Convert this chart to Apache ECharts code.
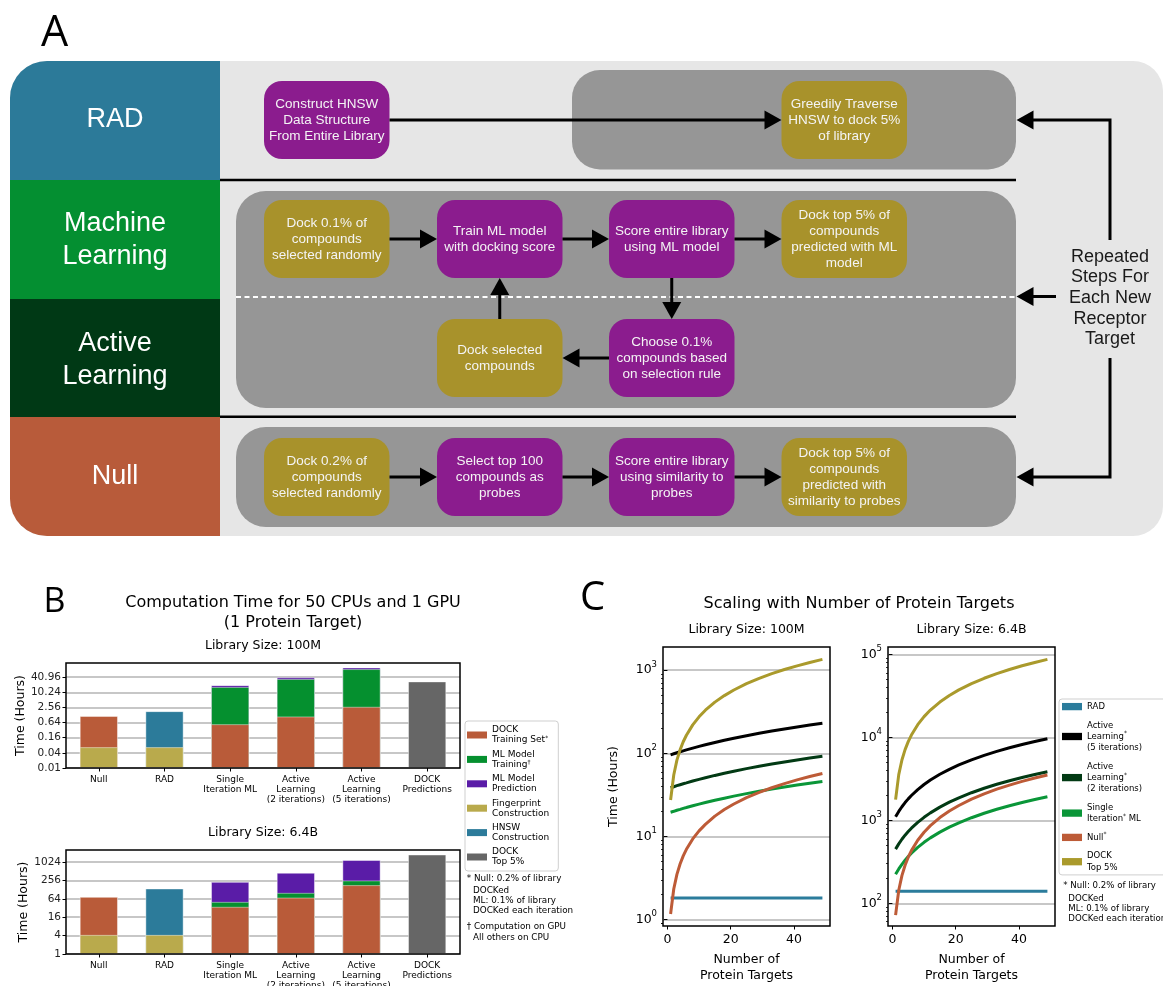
<!DOCTYPE html>
<html>
<head>
<meta charset="utf-8">
<script src="https://cdn.jsdelivr.net/npm/echarts@6.0.0/dist/echarts.min.js"></script>
<style>
html,body{margin:0;padding:0;background:#ffffff;}
#chart{width:1163px;height:986px;}
</style>
</head>
<body>
<div id="chart"></div>
<script>
// ================= Panel B data (hours, one array per stacked segment) =================
const barCategories = ['Null', 'RAD', 'Single\nIteration ML', 'Active\nLearning\n(2 iterations)', 'Active\nLearning\n(5 iterations)', 'DOCK\nPredictions'];
const segmentNames = ['Fingerprint Construction', 'DOCK Training Set', 'ML Model Training', 'ML Model Prediction', 'HNSW Construction', 'DOCK Top 5%'];
// Library size 100M
const fingerprint100M  = [0.067, 0.067, null, null, null, null];
const dockTraining100M = [1.10, null, 0.55, 1.11, 2.7, null];
const mlTraining100M   = [null, null, 16.0, 33.2, 82.3, null];
const mlPrediction100M = [null, null, 3.0, 5.6, 14.0, null];
const hnsw100M         = [null, 1.74, null, null, null, null];
const dockTop100M      = [null, null, null, null, null, 27.5];
// Library size 6.4B
const fingerprint64B  = [4.2, 4.2, null, null, null, null];
const dockTraining64B = [69.5, null, 34.9, 70, 179, null];
const mlTraining64B   = [null, null, 15.7, 30, 76, null];
const mlPrediction64B = [null, null, 178, 355, 935, null];
const hnsw64B         = [null, 134.8, null, null, null, null];
const dockTop64B      = [null, null, null, null, null, 1800];
// tick labels
const yTicks100M = [0.01, 0.04, 0.16, 0.64, 2.56, 10.24, 40.96];
const yTickLabels100M = ['0.01', '0.04', '0.16', '0.64', '2.56', '10.24', '40.96'];
const yTicks64B = [1, 4, 16, 64, 256, 1024];
const yTickLabels64B = ['1', '4', '16', '64', '256', '1024'];
const yRange100M = [0.01, 149.6];
const yRange64B = [1, 2544];

// ================= Panel C data (hours vs number of protein targets) =================
const targetCounts = [1, 2, 3, 4, 5, 6, 8, 10, 12, 15, 18, 21, 25, 29, 33, 37, 41, 45, 49];
const cSeriesNames = ['RAD', 'Active Learning (5 iterations)', 'Active Learning (2 iterations)', 'Single Iteration ML', 'Null', 'DOCK Top 5% (scaling)'];
// 100M
const rad100M    = [1.82, 1.82, 1.82, 1.82, 1.82, 1.82, 1.82, 1.82, 1.82, 1.82, 1.82, 1.82, 1.82, 1.82, 1.82, 1.82, 1.82, 1.82, 1.82];
const al5_100M   = [96.0, 98.8, 101.6, 104.4, 107.2, 110.0, 115.6, 121.2, 126.8, 135.2, 143.6, 152.0, 163.2, 174.4, 185.6, 196.8, 208.0, 219.2, 230.4];
const al2_100M   = [38.6, 39.7, 40.9, 42.0, 43.1, 44.2, 46.5, 48.7, 50.9, 54.3, 57.7, 61.0, 65.5, 70.0, 74.5, 78.9, 83.4, 87.9, 92.4];
const single100M = [19.6, 20.1, 20.7, 21.2, 21.8, 22.3, 23.4, 24.5, 25.6, 27.3, 28.9, 30.6, 32.8, 35.0, 37.2, 39.4, 41.6, 43.8, 46.0];
const null100M   = [1.17, 2.34, 3.51, 4.68, 5.85, 7.02, 9.36, 11.7, 14.0, 17.6, 21.1, 24.6, 29.3, 33.9, 38.6, 43.3, 48.0, 52.7, 57.3];
const dock100M   = [27.5, 55, 83, 110, 138, 165, 220, 275, 330, 413, 495, 578, 688, 798, 908, 1018, 1128, 1238, 1348];
// 6.4B
const rad64B    = [140, 140, 140, 140, 140, 140, 140, 140, 140, 140, 140, 140, 140, 140, 140, 140, 140, 140, 140];
const al5_64B   = [1105, 1283, 1460, 1638, 1816, 1994, 2349, 2705, 3061, 3594, 4127, 4661, 5372, 6083, 6794, 7506, 8217, 8928, 9639];
const al2_64B   = [450, 521, 592, 663, 734, 805, 947, 1089, 1231, 1444, 1657, 1870, 2154, 2438, 2722, 3006, 3290, 3574, 3858];
const single64B = [224, 260, 295, 331, 366, 402, 473, 544, 615, 721, 828, 934, 1076, 1218, 1360, 1502, 1644, 1786, 1928];
const null64B   = [72, 144, 216, 288, 360, 432, 576, 720, 864, 1080, 1296, 1512, 1800, 2088, 2376, 2664, 2952, 3240, 3528];
const dock64B   = [1780, 3560, 5340, 7120, 8900, 10680, 14240, 17800, 21360, 26700, 32040, 37380, 44500, 51620, 58740, 65860, 72980, 80100, 87220];
const cYTicks100M = [1, 10, 100, 1000];
const cYTicks64B = [100, 1000, 10000, 100000];
const cYRange100M = [0.84, 1900];
const cYRange64B = [53.3, 123000];
const cXTicks = [0, 20, 40];
const cXRange = [-1.4, 51.4];

// ================= Panel A text =================
const rowLabels = ['RAD', 'Machine\nLearning', 'Active\nLearning', 'Null'];
const flowNodes = [
  { text: 'Construct HNSW\nData Structure\nFrom Entire Library', kind: 'compute', col: 0, row: 0 },
  { text: 'Greedily Traverse\nHNSW to dock 5%\nof library', kind: 'dock', col: 3, row: 0 },
  { text: 'Dock 0.1% of\ncompounds\nselected randomly', kind: 'dock', col: 0, row: 1 },
  { text: 'Train ML model\nwith docking score', kind: 'compute', col: 1, row: 1 },
  { text: 'Score entire library\nusing ML model', kind: 'compute', col: 2, row: 1 },
  { text: 'Dock top 5% of\ncompounds\npredicted with ML\nmodel', kind: 'dock', col: 3, row: 1 },
  { text: 'Dock selected\ncompounds', kind: 'dock', col: 1, row: 2 },
  { text: 'Choose 0.1%\ncompounds based\non selection rule', kind: 'compute', col: 2, row: 2 },
  { text: 'Dock 0.2% of\ncompounds\nselected randomly', kind: 'dock', col: 0, row: 3 },
  { text: 'Select top 100\ncompounds as\nprobes', kind: 'compute', col: 1, row: 3 },
  { text: 'Score entire library\nusing similarity to\nprobes', kind: 'compute', col: 2, row: 3 },
  { text: 'Dock top 5% of\ncompounds\npredicted with\nsimilarity to probes', kind: 'dock', col: 3, row: 3 }
];
const repeatText = 'Repeated\nSteps For\nEach New\nReceptor\nTarget';
const bNotes = ['* Null: 0.2% of library', 'DOCKed', 'ML: 0.1% of library', 'DOCKed each iteration', '\u2020 Computation on GPU', 'All others on CPU'];
const cNotes = ['* Null: 0.2% of library', 'DOCKed', 'ML: 0.1% of library', 'DOCKed each iteration'];

// ================= Styles =================
const F = 'DejaVu Sans';
const AF = 'Liberation Sans';
const barColors = {
  'Fingerprint Construction': '#b9aa4c',
  'DOCK Training Set': '#b95b39',
  'ML Model Training': '#05902f',
  'ML Model Prediction': '#5a1ca7',
  'HNSW Construction': '#2c7b9a',
  'DOCK Top 5%': '#666666'
};
const lineColors = ['#2b7c9c', '#000000', '#023a14', '#0a9638', '#bd5b37', '#aa9a2c'];
const bLegendOrder = ['DOCK Training Set', 'ML Model Training', 'ML Model Prediction', 'Fingerprint Construction', 'HNSW Construction', 'DOCK Top 5%'];
const bLegendText = {
  'DOCK Training Set': 'DOCK\nTraining Set{s|*}',
  'ML Model Training': 'ML Model\nTraining{s|\u2020}',
  'ML Model Prediction': 'ML Model\nPrediction',
  'Fingerprint Construction': 'Fingerprint\nConstruction',
  'HNSW Construction': 'HNSW\nConstruction',
  'DOCK Top 5%': 'DOCK\nTop 5%'
};
const cLegendText = {
  'RAD': 'RAD',
  'Active Learning (5 iterations)': 'Active\nLearning{s|*}\n(5 iterations)',
  'Active Learning (2 iterations)': 'Active\nLearning{s|*}\n(2 iterations)',
  'Single Iteration ML': 'Single\nIteration{s|*} ML',
  'Null': 'Null{s|*}',
  'DOCK Top 5% (scaling)': 'DOCK\nTop 5%'
};

// ================= Build bar series (overlapping cumulative bars = stacked look) =================
function buildBars(segs, xi, yi, unit) {
  const out = [];
  segs.forEach((arr, k) => {
    const data = arr.map((v, c) => {
      if (v == null) return '-';
      let s = 0;
      for (let j = 0; j <= k; j++) if (segs[j][c] != null) s += segs[j][c];
      return +(s * unit).toPrecision(10);
    });
    out.push({
      type: 'bar', name: segmentNames[k], xAxisIndex: xi, yAxisIndex: yi, data: data,
      barWidth: '58%', barGap: '-100%', z: 10 - k,
      itemStyle: { color: barColors[segmentNames[k]], borderColor: 'rgba(255,255,255,0.55)', borderWidth: 0.8 },
      emphasis: { disabled: true }
    });
  });
  return out;
}
const UNIT100M = 100; // plot 100M values in hundredths of an hour so the log axis starts at 1
const barSeries = buildBars([fingerprint100M, dockTraining100M, mlTraining100M, mlPrediction100M, hnsw100M, dockTop100M], 0, 0, UNIT100M)
  .concat(buildBars([fingerprint64B, dockTraining64B, mlTraining64B, mlPrediction64B, hnsw64B, dockTop64B], 1, 1, 1));

function tickFormatter(vals, labels) {
  return function (v) {
    for (let i = 0; i < vals.length; i++) if (Math.abs(v - vals[i]) / vals[i] < 1e-6) return labels[i];
    return '';
  };
}

// ================= Build line series =================
const cLeft = [rad100M, al5_100M, al2_100M, single100M, null100M, dock100M];
const cRight = [rad64B, al5_64B, al2_64B, single64B, null64B, dock64B];
function buildLines(sets, xi, yi) {
  return sets.map((arr, k) => ({
    type: 'line', name: cSeriesNames[k], xAxisIndex: xi, yAxisIndex: yi,
    data: targetCounts.map((n, i) => [n, arr[i]]),
    symbol: 'none', showSymbol: false, z: 3 + k * 0.01,
    lineStyle: { width: 3, color: lineColors[k] },
    itemStyle: { color: lineColors[k] },
    emphasis: { disabled: true }
  }));
}
const lineSeries = buildLines(cLeft, 2, 2).concat(buildLines(cRight, 3, 4));

function minorTicks(range) {
  const out = [];
  for (let e = -2; e <= 6; e++) for (let m = 2; m <= 9; m++) {
    const v = m * Math.pow(10, e);
    if (v > range[0] && v < range[1]) out.push(+v.toPrecision(6));
  }
  if (0.9 > range[0] && 0.9 < range[1]) out.push(0.9);
  return out;
}
const supFmt = v => '{b|10}{s|' + Math.round(Math.log10(v)) + '}';
const supRich = {
  b: { fontFamily: F, fontSize: 12.5, color: '#000', lineHeight: 20 },
  s: { fontFamily: F, fontSize: 8.5, color: '#000', lineHeight: 9, verticalAlign: 'top' }
};

// ================= Axes =================
const gridBase = { show: true, z: 20, borderColor: '#000', borderWidth: 1.5, backgroundColor: 'transparent', containLabel: false, outerBoundsMode: 'none' };
const grids = [
  Object.assign({ left: 66, top: 663, width: 394, height: 105 }, gridBase),
  Object.assign({ left: 66, top: 850, width: 394, height: 104 }, gridBase),
  Object.assign({ left: 663, top: 647, width: 167, height: 279 }, gridBase),
  Object.assign({ left: 888, top: 647, width: 167, height: 279 }, gridBase)
];
function barX(gi) {
  return {
    type: 'category', gridIndex: gi, data: barCategories,
    axisLine: { show: false },
    axisTick: { show: true, alignWithLabel: true, length: 3.5, lineStyle: { color: '#000', width: 1 } },
    axisLabel: { interval: 0, fontFamily: F, fontSize: 9, lineHeight: 10, color: '#000', margin: 6.5, hideOverlap: false },
    splitLine: { show: false }
  };
}
function barY(gi, ticks, labels, range, unit) {
  const tv = ticks.map(t => +(t * unit).toPrecision(10));
  return {
    type: 'log', logBase: 4, gridIndex: gi, min: +(range[0] * unit).toPrecision(10), max: +(range[1] * unit).toPrecision(10),
    axisLine: { show: false },
    axisTick: { show: true, customValues: tv, length: 3.5, lineStyle: { color: '#000', width: 1 } },
    axisLabel: { customValues: tv, formatter: tickFormatter(tv, labels), fontFamily: F, fontSize: 10.5, color: '#222', margin: 5 },
    splitLine: { show: true, lineStyle: { color: '#b4b4b4', width: 1.5 } },
    name: 'Time (Hours)', nameLocation: 'middle', nameGap: 36,
    nameTextStyle: { fontFamily: F, fontSize: 12.5, color: '#000' }
  };
}
function cX(gi) {
  return {
    type: 'value', gridIndex: gi, min: cXRange[0], max: cXRange[1],
    axisLine: { show: false },
    axisTick: { show: true, customValues: cXTicks, length: 3.5, lineStyle: { color: '#000', width: 1 } },
    axisLabel: { customValues: cXTicks, fontFamily: F, fontSize: 12.5, color: '#000', margin: 7 },
    splitLine: { show: false },
    name: 'Number of\nProtein Targets', nameLocation: 'middle', nameGap: 25,
    nameTextStyle: { fontFamily: F, fontSize: 12.5, lineHeight: 16.5, color: '#000' }
  };
}
function cY(gi, ticks, range, withName) {
  const ax = {
    type: 'log', logBase: 10, gridIndex: gi, min: range[0], max: range[1], position: 'left',
    axisLine: { show: false },
    axisTick: { show: true, customValues: ticks, length: 3.5, lineStyle: { color: '#000', width: 1 } },
    axisLabel: { customValues: ticks, formatter: supFmt, rich: supRich, margin: 6, fontFamily: F, fontSize: 12.5, color: '#000' },
    splitLine: { show: true, lineStyle: { color: '#b4b4b4', width: 1.5 } }
  };
  if (withName) {
    ax.name = 'Time (Hours)'; ax.nameLocation = 'middle'; ax.nameGap = 43;
    ax.nameTextStyle = { fontFamily: F, fontSize: 12.5, color: '#000' };
  }
  return ax;
}
function cYMinor(gi, range) {
  const mt = minorTicks(range);
  return {
    type: 'log', logBase: 10, gridIndex: gi, min: range[0], max: range[1], position: 'left',
    axisLine: { show: false },
    axisTick: { show: true, customValues: mt, length: 2, lineStyle: { color: '#000', width: 0.8 } },
    axisLabel: { show: false },
    splitLine: { show: false }
  };
}

// ================= Panel A & texts (graphic) =================
const G = [];
function txt(text, x, y, size, family, opts) {
  opts = opts || {};
  G.push({
    type: 'text', silent: true, z: 50,
    style: {
      text: text, x: x, y: y, fill: opts.fill || '#000', fontSize: size, fontFamily: family,
      align: opts.align || 'center', verticalAlign: opts.va || 'middle',
      textAlign: opts.align || 'center', textVerticalAlign: opts.va || 'middle',
      lineHeight: opts.lh || Math.round(size * 1.2)
    }
  });
}
function rect(x, y, w, h, r, fill) {
  G.push({ type: 'rect', silent: true, z: 40, shape: { x: x, y: y, width: w, height: h, r: r }, style: { fill: fill } });
}
function arrow(pts) {
  const n = pts.length, tip = pts[n - 1], prev = pts[n - 2];
  const dx = tip[0] - prev[0], dy = tip[1] - prev[1], len = Math.hypot(dx, dy);
  const ux = dx / len, uy = dy / len, L = 17, H = 9.5;
  const bx = tip[0] - ux * L, by = tip[1] - uy * L;
  G.push({ type: 'polyline', silent: true, z: 45, shape: { points: pts.slice(0, n - 1).concat([[bx + ux * 2, by + uy * 2]]) }, style: { stroke: '#000', lineWidth: 3, fill: 'none' } });
  G.push({ type: 'polygon', silent: true, z: 45, shape: { points: [tip, [bx - uy * H, by + ux * H], [bx + uy * H, by - ux * H]] }, style: { fill: '#000' } });
}
// outer frame
rect(10, 61, 1153, 475, [37, 30, 30, 37], '#e6e6e6');
const rowEdges = [61, 180, 299, 417, 536];
const rowColors = ['#2c7a99', '#048f31', '#003915', '#b85b3a'];
const rowLabelY = [120, 240, 360, 477];
for (let i = 0; i < 4; i++) {
  rect(10, rowEdges[i], 210, rowEdges[i + 1] - rowEdges[i], i === 0 ? [37, 0, 0, 0] : (i === 3 ? [0, 0, 0, 37] : 0), rowColors[i]);
}
// gray containers
rect(572, 70, 444, 99.5, 28, '#969696');
rect(236, 191, 780, 217, 30, '#969696');
rect(236, 427, 780, 100, 30, '#969696');
// separators
G.push({ type: 'line', silent: true, z: 41, shape: { x1: 220, y1: 180, x2: 1016, y2: 180 }, style: { stroke: '#000', lineWidth: 2.5 } });
G.push({ type: 'line', silent: true, z: 41, shape: { x1: 220, y1: 416.7, x2: 1016, y2: 416.7 }, style: { stroke: '#000', lineWidth: 2.5 } });
G.push({ type: 'line', silent: true, z: 41, shape: { x1: 236, y1: 297, x2: 1016, y2: 297 }, style: { stroke: '#ffffff', lineWidth: 2, lineDash: [5, 3.5] } });
// row labels
rowLabels.forEach((t, i) => txt(t, 115, rowLabelY[i], 27, AF, { fill: '#ffffff', lh: 32.7 }));
// nodes
const colX = [264, 437, 609, 781.5], rowTop = [81, 200, 319, 438], NW = 125.5, NH = 78;
flowNodes.forEach(nd => {
  G.push({ type: 'rect', silent: true, z: 42, shape: { x: colX[nd.col], y: rowTop[nd.row], width: NW, height: NH, r: 18 }, style: { fill: nd.kind === 'dock' ? '#a8922b' : '#8b1c8e' } });
  txt(nd.text, colX[nd.col] + NW / 2, rowTop[nd.row] + NH / 2, 13.5, AF, { fill: '#f4f4f4', lh: 16 });
});
const cy = r => rowTop[r] + NH / 2, cx = c => colX[c] + NW / 2;
arrow([[colX[0] + NW, cy(0)], [colX[3], cy(0)]]);
[1, 3].forEach(r => {
  for (let c = 0; c < 3; c++) arrow([[colX[c] + NW, cy(r)], [colX[c + 1], cy(r)]]);
});
arrow([[cx(2), rowTop[1] + NH], [cx(2), rowTop[2]]]);
arrow([[colX[2], cy(2)], [colX[1] + NW, cy(2)]]);
arrow([[cx(1), rowTop[2]], [cx(1), rowTop[1] + NH]]);
arrow([[1110, 240], [1110, cy(0)], [1016.5, cy(0)]]);
arrow([[1056, 296.5], [1016.5, 296.5]]);
arrow([[1110, 358], [1110, cy(3)], [1016.5, cy(3)]]);
txt(repeatText, 1110, 298, 18, AF, { fill: '#1a1a1a', lh: 20.6 });

// panel letters
txt('A', 54.5, 34, 43, 'Open Sans');
txt('B', 54.5, 602, 34, 'Open Sans');
txt('C', 592.5, 599, 40, 'Open Sans');
// titles
txt('Computation Time for 50 CPUs and 1 GPU\n(1 Protein Target)', 293, 613, 16, F, { lh: 19.5 });
txt('Library Size: 100M', 263, 645.7, 12.5, F);
txt('Library Size: 6.4B', 263, 832.3, 12.5, F);
txt('Scaling with Number of Protein Targets', 859, 603.5, 16, F);
txt('Library Size: 100M', 746.5, 630, 12.5, F);
txt('Library Size: 6.4B', 971.5, 630, 12.5, F);
// notes
const bNotePos = [[466.7, 878.3], [473, 890.3], [473, 900.3], [473, 910.3], [466.7, 926.7], [473, 937.3]];
bNotes.forEach((t, i) => txt(t, bNotePos[i][0], bNotePos[i][1], 8.8, F, { align: 'left' }));
const cNotePos = [[1063.3, 885.7], [1068.3, 899], [1068.3, 908.3], [1068.3, 918.3]];
cNotes.forEach((t, i) => txt(t, cNotePos[i][0], cNotePos[i][1], 8.6, F, { align: 'left' }));

// ================= Chart =================
const legendSup = { s: { fontFamily: F, fontSize: 6, lineHeight: 6, verticalAlign: 'top', color: '#000' } };
const option = {
  animation: false,
  backgroundColor: '#ffffff',
  grid: grids,
  xAxis: [barX(0), barX(1), cX(2), cX(3)],
  yAxis: [
    barY(0, yTicks100M, yTickLabels100M, yRange100M, UNIT100M),
    barY(1, yTicks64B, yTickLabels64B, yRange64B, 1),
    cY(2, cYTicks100M, cYRange100M, true),
    cYMinor(2, cYRange100M),
    cY(3, cYTicks64B, cYRange64B, false),
    cYMinor(3, cYRange64B)
  ],
  legend: [
    {
      data: bLegendOrder, orient: 'vertical', left: 465, top: 721, padding: [4, 9, 4, 2], itemGap: 4.4,
      itemWidth: 20, itemHeight: 7, icon: 'rect', selectedMode: false,
      itemStyle: { borderWidth: 0 },
      borderColor: '#cfcfcf', borderWidth: 1, borderRadius: 3, backgroundColor: '#ffffff',
      textStyle: { fontFamily: F, fontSize: 9, lineHeight: 10, color: '#000', rich: legendSup },
      formatter: n => bLegendText[n]
    },
    {
      data: cSeriesNames, orient: 'vertical', left: 1059, top: 699, padding: [2, 24, 2, 3], itemGap: 7.5,
      itemWidth: 20, itemHeight: 7.3, icon: 'rect', selectedMode: false,
      itemStyle: { borderWidth: 0 },
      borderColor: '#cfcfcf', borderWidth: 1, borderRadius: 3, backgroundColor: '#ffffff',
      textStyle: { fontFamily: F, fontSize: 8.5, lineHeight: 11.2, color: '#000', rich: legendSup },
      formatter: n => cLegendText[n]
    }
  ],
  graphic: { elements: G },
  series: barSeries.concat(lineSeries)
};
const chart = echarts.init(document.getElementById('chart'), null, { renderer: 'canvas' });
chart.setOption(option);
</script>
</body>
</html>
